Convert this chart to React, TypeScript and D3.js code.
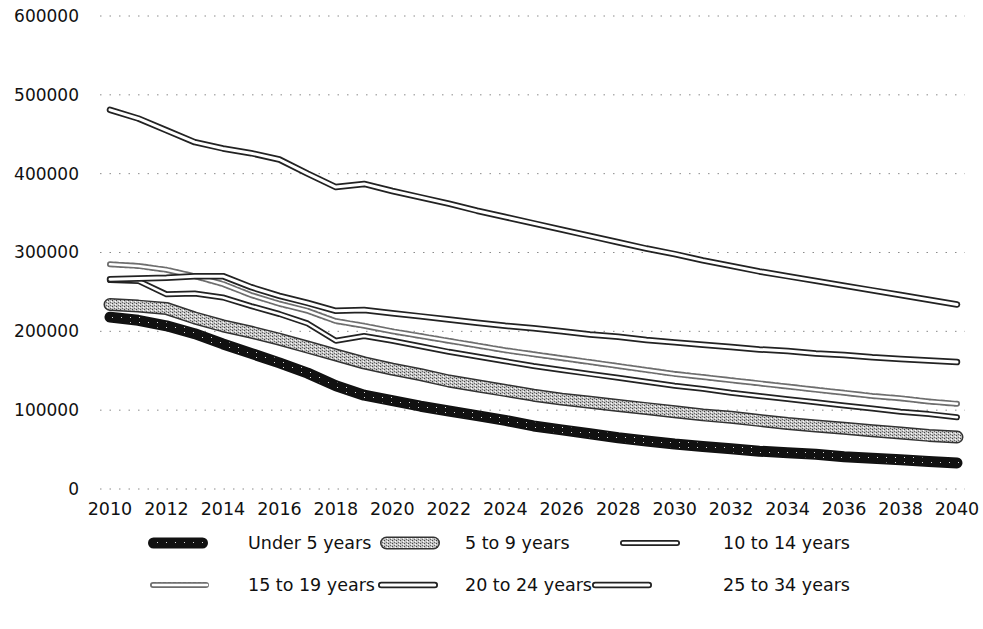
import { useRef, useEffect } from 'react'
import * as d3 from 'd3'

const years = [
  2010, 2011, 2012, 2013, 2014, 2015, 2016, 2017, 2018, 2019, 2020,
  2021, 2022, 2023, 2024, 2025, 2026, 2027, 2028, 2029, 2030,
  2031, 2032, 2033, 2034, 2035, 2036, 2037, 2038, 2039, 2040
]

const under5 = [
  218000, 214000, 207000, 197000, 184000, 172000, 160000, 147000, 131000, 119000, 112000,
  105000, 99000, 93000, 87000, 80000, 75000, 70000, 65000, 61000, 57000,
  54000, 51000, 48000, 46000, 44000, 41000, 39000, 37000, 35000, 33000
]
const age5to9 = [
  234000, 232000, 229000, 217000, 207000, 199000, 190000, 180000, 170000, 160000, 152000,
  145000, 137000, 131000, 125000, 119000, 114000, 110000, 106000, 102000, 98000,
  94000, 91000, 87000, 83000, 80000, 77000, 74000, 71000, 68000, 66000
]
const age10to14 = [
  265000, 264000, 247000, 248000, 243000, 232000, 222000, 210000, 188000, 194000, 188000,
  181000, 174000, 168000, 162000, 156000, 151000, 146000, 141000, 136000, 131000,
  127000, 122000, 118000, 114000, 110000, 106000, 102000, 98000, 95000, 91000
]
const age15to19 = [
  285000, 283000, 278000, 270000, 260000, 246000, 235000, 226000, 213000, 207000, 200000,
  194000, 188000, 182000, 176000, 171000, 166000, 161000, 156000, 151000, 146000,
  142000, 138000, 134000, 130000, 126000, 122000, 118000, 115000, 111000, 108000
]
const age20to24 = [
  266000, 267000, 268000, 270000, 270000, 256000, 245000, 236000, 226000, 227000, 223000,
  219000, 215000, 211000, 207000, 204000, 200000, 196000, 193000, 189000, 186000,
  183000, 180000, 177000, 175000, 172000, 170000, 167000, 165000, 163000, 161000
]
const age25to34 = [
  481000, 470000, 455000, 440000, 432000, 426000, 418000, 400000, 383000, 387000, 378000,
  370000, 362000, 353000, 345000, 337000, 329000, 321000, 313000, 305000, 298000,
  290000, 283000, 276000, 270000, 264000, 258000, 252000, 246000, 240000, 234000
]

const seriesNames = [
  'Under 5 years', '5 to 9 years', '10 to 14 years',
  '15 to 19 years', '20 to 24 years', '25 to 34 years'
]
const seriesValues = [under5, age5to9, age10to14, age15to19, age20to24, age25to34]

const yTickValues = [0, 100000, 200000, 300000, 400000, 500000, 600000]
const xTickYears = [2010, 2012, 2014, 2016, 2018, 2020, 2022, 2024, 2026, 2028, 2030, 2032, 2034, 2036, 2038, 2040]

// grayscale "fax" look for each series: outer stroke, optional inner stroke
interface LineStyle {
  outer: string
  outerWidth: number
  outerDash?: string
  inner?: string
  innerWidth?: number
}
const lineStyles: LineStyle[] = [
  { outer: '#111', outerWidth: 11, inner: 'url(#speckDark)', innerWidth: 7 },
  { outer: '#333', outerWidth: 13, inner: 'url(#speckGray)', innerWidth: 10 },
  { outer: '#222', outerWidth: 6, inner: '#fff', innerWidth: 2.5 },
  { outer: '#6e6e6e', outerWidth: 6, outerDash: '3 2', inner: '#fff', innerWidth: 2.5 },
  { outer: '#222', outerWidth: 6.5, inner: '#fff', innerWidth: 3 },
  { outer: '#222', outerWidth: 6.5, inner: '#fff', innerWidth: 3 }
]

const WIDTH = 983
const HEIGHT = 629
const FONT = '"DejaVu Sans", sans-serif'

export default function App() {
  const svgRef = useRef<SVGSVGElement>(null)

  useEffect(() => {
    if (!svgRef.current) return
    const svg = d3.select(svgRef.current)
    svg.selectAll('*').remove()

    const x = d3.scaleLinear().domain([2010, 2040]).range([110, 957])
    const y = d3.scaleLinear().domain([0, 600000]).range([489, 16])

    const defs = svg.append('defs')
    const speckGray = defs.append('pattern')
      .attr('id', 'speckGray')
      .attr('patternUnits', 'userSpaceOnUse')
      .attr('width', 4)
      .attr('height', 3)
    speckGray.append('rect').attr('width', 4).attr('height', 3).attr('fill', '#c4c4c4')
    speckGray.append('rect').attr('x', 0).attr('y', 0).attr('width', 1).attr('height', 1).attr('fill', '#444')
    speckGray.append('rect').attr('x', 2).attr('y', 2).attr('width', 1).attr('height', 1).attr('fill', '#666')
    speckGray.append('rect').attr('x', 3).attr('y', 1).attr('width', 1).attr('height', 1).attr('fill', '#fff')

    const speckDark = defs.append('pattern')
      .attr('id', 'speckDark')
      .attr('patternUnits', 'userSpaceOnUse')
      .attr('width', 9)
      .attr('height', 5)
    speckDark.append('rect').attr('width', 9).attr('height', 5).attr('fill', '#111')
    speckDark.append('rect').attr('x', 4).attr('y', 2).attr('width', 1).attr('height', 1).attr('fill', '#ddd')

    // dotted gridlines
    svg.append('g')
      .selectAll('line')
      .data(yTickValues)
      .join('line')
      .attr('x1', 100)
      .attr('x2', 965)
      .attr('y1', (d) => y(d))
      .attr('y2', (d) => y(d))
      .attr('stroke', '#8a8a8a')
      .attr('stroke-width', 1)
      .attr('stroke-dasharray', '1.5 8')

    svg.append('g')
      .selectAll('text')
      .data(yTickValues)
      .join('text')
      .attr('x', 79)
      .attr('y', (d) => y(d))
      .attr('dy', '0.35em')
      .attr('text-anchor', 'end')
      .attr('font-family', FONT)
      .attr('font-size', 17)
      .attr('fill', '#111')
      .text((d) => String(d))

    svg.append('g')
      .selectAll('text')
      .data(xTickYears)
      .join('text')
      .attr('x', (d) => x(d))
      .attr('y', 509)
      .attr('dy', '0.35em')
      .attr('text-anchor', 'middle')
      .attr('font-family', FONT)
      .attr('font-size', 17.5)
      .attr('fill', '#111')
      .text((d) => String(d))

    const line = d3.line<number>()
      .x((_: number, i: number) => x(years[i]))
      .y((d: number) => y(d))

    const drawStyled = (g: d3.Selection<SVGGElement, unknown, null, undefined>, d: string, s: LineStyle) => {
      g.append('path')
        .attr('d', d)
        .attr('fill', 'none')
        .attr('stroke', s.outer)
        .attr('stroke-width', s.outerWidth)
        .attr('stroke-dasharray', s.outerDash ?? null)
        .attr('stroke-linecap', 'round')
        .attr('stroke-linejoin', 'round')
      if (s.inner) {
        g.append('path')
          .attr('d', d)
          .attr('fill', 'none')
          .attr('stroke', s.inner)
          .attr('stroke-width', s.innerWidth ?? 2)
          .attr('stroke-linecap', 'round')
          .attr('stroke-linejoin', 'round')
      }
    }

    const plot = svg.append('g')
    seriesValues.forEach((vals, i) => {
      drawStyled(plot.append('g'), line(vals) ?? '', lineStyles[i])
    })

    // legend: 3 columns x 2 rows, marker then label
    const legendRows = [543, 585]
    const markerX = [[148, 380, 620], [150, 378, 592]]
    const textX = [248, 465, 723]
    const legend = svg.append('g')
    seriesNames.forEach((name, i) => {
      const row = Math.floor(i / 3)
      const col = i % 3
      const ly = legendRows[row]
      const cap = lineStyles[i].outerWidth / 2
      const mx = markerX[row][col] + cap
      const seg = d3.line<number>().x((d) => d).y(() => ly)([mx, mx + 60 - 2 * cap]) ?? ''
      drawStyled(legend.append('g'), seg, lineStyles[i])
      legend.append('text')
        .attr('x', textX[col])
        .attr('y', ly)
        .attr('dy', '0.35em')
        .attr('font-family', FONT)
        .attr('font-size', 17.5)
        .attr('fill', '#111')
        .text(name)
    })
  }, [])

  return (
    <svg
      ref={svgRef}
      width={WIDTH}
      height={HEIGHT}
      style={{ position: 'absolute', left: 0, top: 0, background: '#fff' }}
    />
  )
}
